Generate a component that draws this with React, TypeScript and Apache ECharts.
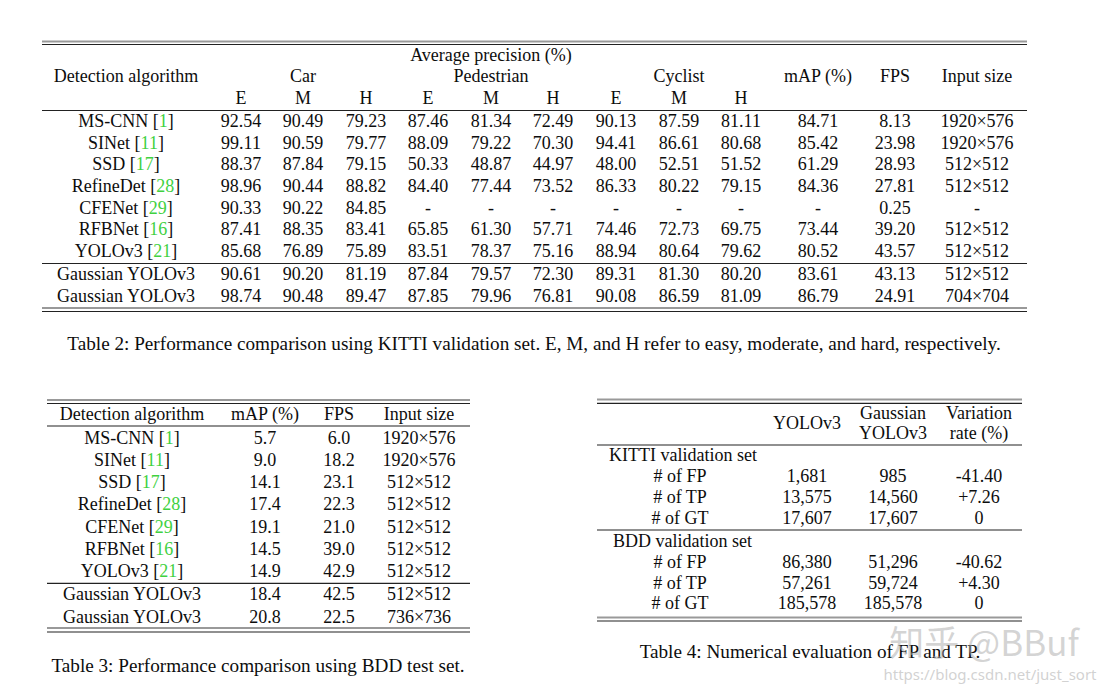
import React, { useEffect, useRef } from "react";
import * as echarts from "echarts";

// ---------- Table 2 (KITTI) data ----------
const kittiMethods = ["MS-CNN", "SINet", "SSD", "RefineDet", "CFENet", "RFBNet", "YOLOv3", "Gaussian YOLOv3", "Gaussian YOLOv3"];
const kittiRefs = ["1", "11", "17", "28", "29", "16", "21", "", ""];
const carE = [92.54, 99.11, 88.37, 98.96, 90.33, 87.41, 85.68, 90.61, 98.74];
const carM = [90.49, 90.59, 87.84, 90.44, 90.22, 88.35, 76.89, 90.2, 90.48];
const carH = [79.23, 79.77, 79.15, 88.82, 84.85, 83.41, 75.89, 81.19, 89.47];
const pedE = [87.46, 88.09, 50.33, 84.4, null, 65.85, 83.51, 87.84, 87.85];
const pedM = [81.34, 79.22, 48.87, 77.44, null, 61.3, 78.37, 79.57, 79.96];
const pedH = [72.49, 70.3, 44.97, 73.52, null, 57.71, 75.16, 72.3, 76.81];
const cycE = [90.13, 94.41, 48.0, 86.33, null, 74.46, 88.94, 89.31, 90.08];
const cycM = [87.59, 86.61, 52.51, 80.22, null, 72.73, 80.64, 81.3, 86.59];
const cycH = [81.11, 80.68, 51.52, 79.15, null, 69.75, 79.62, 80.2, 81.09];
const kittiMap = [84.71, 85.42, 61.29, 84.36, null, 73.44, 80.52, 83.61, 86.79];
const kittiFps = [8.13, 23.98, 28.93, 27.81, 0.25, 39.2, 43.57, 43.13, 24.91];
const kittiInput = ["1920×576", "1920×576", "512×512", "512×512", "-", "512×512", "512×512", "512×512", "704×704"];
const kittiCaption = "Table 2: Performance comparison using KITTI validation set. E, M, and H refer to easy, moderate, and hard, respectively.";

// ---------- Table 3 (BDD) data ----------
const bddMethods = ["MS-CNN", "SINet", "SSD", "RefineDet", "CFENet", "RFBNet", "YOLOv3", "Gaussian YOLOv3", "Gaussian YOLOv3"];
const bddRefs = ["1", "11", "17", "28", "29", "16", "21", "", ""];
const bddMap = [5.7, 9.0, 14.1, 17.4, 19.1, 14.5, 14.9, 18.4, 20.8];
const bddFps = [6.0, 18.2, 23.1, 22.3, 21.0, 39.0, 42.9, 42.5, 22.5];
const bddInput = ["1920×576", "1920×576", "512×512", "512×512", "512×512", "512×512", "512×512", "512×512", "736×736"];
const bddCaption = "Table 3: Performance comparison using BDD test set.";

// ---------- Table 4 data ----------
const statLabels = ["# of FP", "# of TP", "# of GT"];
const kittiYolo = [1681, 13575, 17607];
const kittiGauss = [985, 14560, 17607];
const kittiVar = [-41.4, 7.26, 0];
const bddYolo = [86380, 57261, 185578];
const bddGauss = [51296, 59724, 185578];
const bddVar = [-40.62, 4.3, 0];
const t4Caption = "Table 4: Numerical evaluation of FP and TP.";

// ---------- style ----------
const FONT = "'Liberation Serif', 'Times New Roman', serif";
const FS = 18;
const CAP_FS = 19.2;
const INK = "#0d0d0d";
const GREEN = "#3fd13f";

const f2 = (v: number | null) => (v === null ? "-" : v.toFixed(2));
const f1 = (v: number | null) => (v === null ? "-" : v.toFixed(1));
const fInt = (v: number) => v.toLocaleString("en-US");
const fVar = (v: number) => (v === 0 ? "0" : (v > 0 ? "+" : "") + v.toFixed(2));

function txt(x: number, y: number, text: string, opts: any = {}) {
  return {
    type: "text",
    x,
    y,
    silent: true,
    style: {
      text,
      fill: opts.fill || INK,
      fontFamily: opts.fontFamily || FONT,
      fontSize: opts.fontSize || FS,
      align: opts.align || "center",
      verticalAlign: "middle",
      rich: opts.rich,
    },
    z: opts.z || 10,
  };
}

function method(x: number, y: number, name: string, ref: string) {
  if (!ref) return txt(x, y, name);
  return txt(x, y, `${name} [{g|${ref}}]`, {
    rich: { g: { fill: GREEN, fontFamily: FONT, fontSize: FS } },
  });
}

function hline(x1: number, x2: number, y: number, w = 1, color = "#222") {
  return {
    type: "line",
    silent: true,
    shape: { x1, y1: y, x2, y2: y },
    style: { stroke: color, lineWidth: w },
  };
}

function buildGraphics() {
  const g: any[] = [];

  // ===== Table 2 =====
  const L2 = 42, R2 = 1027;
  g.push(hline(L2, R2, 41.5, 2, "#999"));
  g.push(hline(L2, R2, 44.5, 1.2));
  g.push(txt(491, 55, "Average precision (%)"));
  const hy = 76;
  g.push(txt(126, hy, "Detection algorithm"));
  g.push(txt(303, hy, "Car"));
  g.push(txt(491, hy, "Pedestrian"));
  g.push(txt(679, hy, "Cyclist"));
  g.push(txt(818, hy, "mAP (%)"));
  g.push(txt(895, hy, "FPS"));
  g.push(txt(977, hy, "Input size"));
  const subX = [241, 303, 366, 428, 491, 553, 616, 679, 741];
  const subL = ["E", "M", "H", "E", "M", "H", "E", "M", "H"];
  subX.forEach((x, i) => g.push(txt(x, 98, subL[i])));
  g.push(hline(L2, R2, 110.5, 1.2));
  const cols = [carE, carM, carH, pedE, pedM, pedH, cycE, cycM, cycH];
  const rowY2 = (i: number) => (i < 7 ? 121 + i * 21.67 : 273.7 + (i - 7) * 22);
  kittiMethods.forEach((m, i) => {
    const y = rowY2(i);
    g.push(method(126, y, m, kittiRefs[i]));
    cols.forEach((c, j) => g.push(txt(subX[j], y, f2(c[i]))));
    g.push(txt(818, y, f2(kittiMap[i])));
    g.push(txt(895, y, f2(kittiFps[i])));
    g.push(txt(977, y, kittiInput[i]));
  });
  g.push(hline(L2, R2, 263.5, 1.2));
  g.push(hline(L2, R2, 308, 2, "#999"));
  g.push(hline(L2, R2, 311.5, 1.2));
  g.push(txt(534, 343, kittiCaption, { fontSize: CAP_FS }));

  // ===== Table 3 =====
  const L3 = 47, R3 = 470;
  g.push(hline(L3, R3, 400, 2, "#999"));
  g.push(hline(L3, R3, 403.5, 1.2));
  g.push(txt(132, 414, "Detection algorithm"));
  g.push(txt(265, 414, "mAP (%)"));
  g.push(txt(339, 414, "FPS"));
  g.push(txt(419, 414, "Input size"));
  g.push(hline(L3, R3, 426, 1.2));
  const rowY3 = (i: number) => (i < 7 ? 437.7 + i * 22.2 : 594.3 + (i - 7) * 22.4);
  bddMethods.forEach((m, i) => {
    const y = rowY3(i);
    g.push(method(132, y, m, bddRefs[i]));
    g.push(txt(265, y, f1(bddMap[i])));
    g.push(txt(339, y, f1(bddFps[i])));
    g.push(txt(419, y, bddInput[i]));
  });
  g.push(hline(L3, R3, 583.3, 1.2));
  g.push(hline(L3, R3, 628, 2, "#999"));
  g.push(hline(L3, R3, 632, 1.2));
  g.push(txt(258, 665, bddCaption, { fontSize: CAP_FS }));

  // ===== Table 4 =====
  const L4 = 597, R4 = 1022;
  const cx = [807, 893, 979];
  g.push(hline(L4, R4, 399.5, 2, "#999"));
  g.push(hline(L4, R4, 403.3, 1.2));
  g.push(txt(cx[0], 423, "YOLOv3"));
  g.push(txt(cx[1], 412.7, "Gaussian"));
  g.push(txt(cx[1], 433.3, "YOLOv3"));
  g.push(txt(cx[2], 412.7, "Variation"));
  g.push(txt(cx[2], 433.3, "rate (%)"));
  g.push(hline(L4, R4, 445, 1.2));
  g.push(txt(609, 455, "KITTI validation set", { align: "left" }));
  const kRows = [476, 497.3, 518.3];
  statLabels.forEach((l, i) => {
    g.push(txt(680, kRows[i], l));
    g.push(txt(cx[0], kRows[i], fInt(kittiYolo[i])));
    g.push(txt(cx[1], kRows[i], fInt(kittiGauss[i])));
    g.push(txt(cx[2], kRows[i], fVar(kittiVar[i])));
  });
  g.push(hline(L4, R4, 530, 1.2));
  g.push(txt(613, 540.7, "BDD validation set", { align: "left" }));
  const bRows = [561.7, 582.7, 603.3];
  statLabels.forEach((l, i) => {
    g.push(txt(680, bRows[i], l));
    g.push(txt(cx[0], bRows[i], fInt(bddYolo[i])));
    g.push(txt(cx[1], bRows[i], fInt(bddGauss[i])));
    g.push(txt(cx[2], bRows[i], fVar(bddVar[i])));
  });
  g.push(hline(L4, R4, 617.5, 2, "#999"));
  g.push(hline(L4, R4, 621, 1.2));
  g.push(txt(810, 651.7, t4Caption, { fontSize: CAP_FS }));

  // watermark
  g.push(txt(984, 640, "知乎 @BBuf", {
    fontFamily: "'Noto Sans CJK SC', 'Noto Sans', sans-serif",
    fontSize: 35,
    fill: "rgba(175,175,175,0.55)",
    z: 20,
  }));
  g.push(txt(990, 674, "https://blog.csdn.net/just_sort", {
    fontFamily: "'Noto Sans', sans-serif",
    fontSize: 15,
    fill: "rgba(190,190,190,0.7)",
    z: 20,
  }));

  return g;
}

export default function App() {
  const ref = useRef<HTMLDivElement>(null);
  useEffect(() => {
    if (!ref.current) return;
    const chart = echarts.init(ref.current, undefined, { renderer: "svg" });
    chart.setOption({
      animation: false,
      backgroundColor: "#ffffff",
      graphic: { elements: buildGraphics() },
    });
    return () => chart.dispose();
  }, []);
  return (
    <div
      ref={ref}
      style={{ position: "fixed", left: 0, top: 0, width: 1103, height: 691, background: "#fff" }}
    />
  );
}
